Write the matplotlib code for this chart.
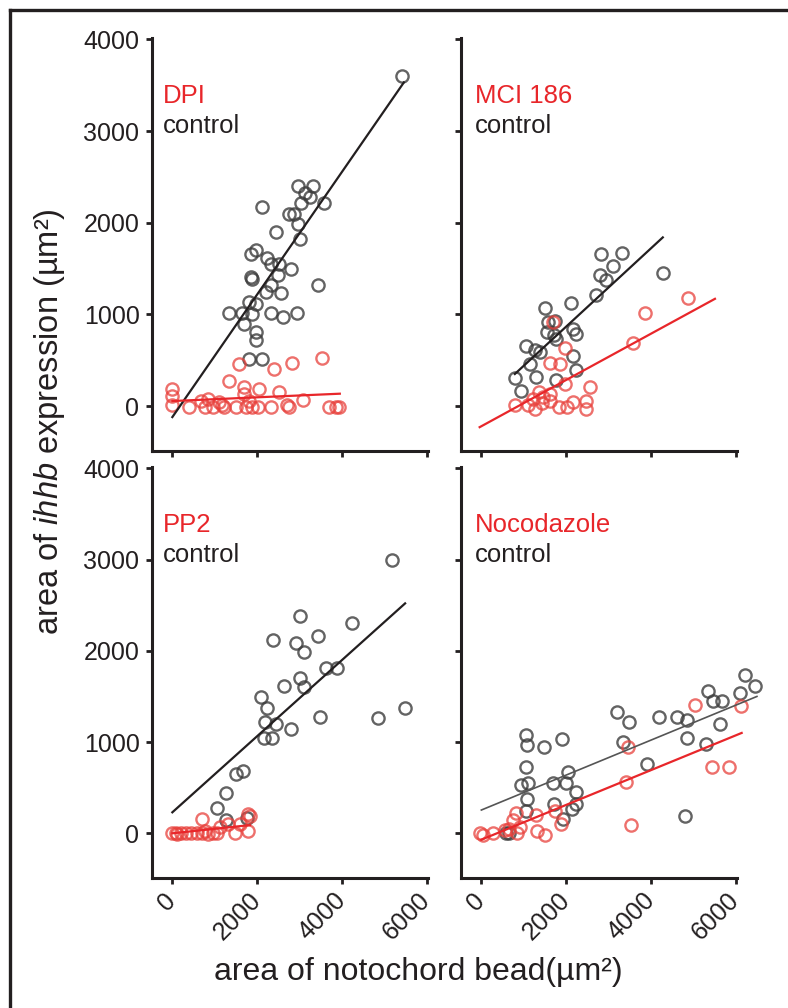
import numpy as np
import matplotlib
matplotlib.use('Agg')
import matplotlib.pyplot as plt
from matplotlib.lines import Line2D

plt.rcParams['font.family'] = ['Liberation Sans', 'DejaVu Sans']
plt.rcParams['mathtext.fontset'] = 'custom'
plt.rcParams['mathtext.rm'] = 'Liberation Sans'
plt.rcParams['mathtext.it'] = 'Liberation Sans:italic'

RED = '#e8262a'
INK = '#231f20'

# ---- DPI ----
dpi_ctrl_x = [5420, 2970, 3320, 3140, 3240, 3030, 3580, 2110, 2740, 2870, 2970, 2440, 3000,
              1850, 1970, 2240, 2320, 2520, 2790, 1850, 1890, 2500, 2320, 3440, 2200, 2560,
              1810, 1970, 1340, 1650, 1890, 2320, 2610, 2950, 1690, 1970, 1970, 1810, 2110]
dpi_ctrl_y = [3600, 2400, 2400, 2320, 2280, 2220, 2220, 2170, 2100, 2100, 1990, 1900, 1820,
              1660, 1700, 1610, 1550, 1550, 1500, 1410, 1390, 1430, 1320, 1320, 1240, 1230,
              1130, 1110, 1010, 1010, 1000, 1010, 970, 1010, 890, 810, 720, 510, 510]
dpi_trt_x = [0, 0, 0, 400, 670, 830, 950, 1110, 1220, 1340, 1500, 1580, 1690, 1690, 1730, 1810,
             2050, 2010, 2320, 2400, 2520, 2710, 2750, 2830, 3070, 3540, 3690, 3850, 3930, 780,
             1180, 1890]
dpi_trt_y = [190, 115, 10, -10, 60, 80, -10, 40, -10, 270, -10, 460, 210, 130, -10, 60,
             190, -10, -10, 400, 150, 10, -10, 470, 70, 520, -10, -10, -10, -10,
             10, -10]
dpi_ctrl_fit = ([0, 5460], [-120, 3530])
dpi_trt_fit = ([0, 3950], [55, 135])

# ---- MCI 186 ----
mci_ctrl_x = [2820, 3310, 3110, 2800, 2950, 4280, 2700, 1500, 2110, 1580, 1740, 1540, 1710,
              1770, 2170, 2230, 1050, 1260, 1380, 2170, 1140, 790, 1280, 1770, 2240, 930]
mci_ctrl_y = [1660, 1670, 1530, 1430, 1380, 1450, 1210, 1070, 1120, 920, 930, 810, 770,
              730, 840, 790, 660, 610, 590, 550, 460, 310, 320, 280, 390, 160]
mci_trt_x = [4880, 3860, 3580, 1690, 1970, 1610, 1850, 1970, 2560, 1350, 1610, 790, 1100,
             1260, 1420, 1610, 1830, 2010, 2150, 2480, 2480, 1220, 1460]
mci_trt_y = [1180, 1010, 690, 920, 630, 470, 460, 240, 210, 150, 130, 10, 10,
             -30, 30, 60, -10, -10, 40, 60, -30, 80, 100]
mci_ctrl_fit = ([790, 4280], [350, 1840])
mci_trt_fit = ([-40, 5510], [-230, 1170])

# ---- PP2 ----
pp2_ctrl_x = [5170, 3010, 4230, 2380, 2910, 3440, 3100, 3620, 3890, 2640, 3010, 3100, 2100,
              2240, 2190, 2440, 3480, 2810, 4860, 5490, 2160, 2360, 1500, 1670, 1260, 1060,
              1260, 1750]
pp2_ctrl_y = [3000, 2380, 2300, 2120, 2090, 2160, 1990, 1810, 1810, 1620, 1700, 1600, 1490,
              1370, 1220, 1200, 1270, 1140, 1260, 1370, 1050, 1050, 650, 680, 440, 280,
              150, 170]
pp2_trt_x = [0, 90, 210, 330, 450, 570, 690, 760, 710, 840, 960, 1120, 1310, 1470, 1590,
             1790, 1790, 1830, 1060, 110]
pp2_trt_y = [0, 0, 0, 0, 0, 0, 0, 30, 160, -10, 0, 70, 100, 0, 100,
             210, 30, 190, 0, -10]
pp2_ctrl_fit = ([0, 5490], [230, 2520])
pp2_trt_fit = ([0, 1830], [0, 90])

# ---- Nocodazole ----
noc_ctrl_x = [6220, 6460, 5340, 5470, 5670, 6090, 3190, 3490, 4200, 4620, 4840, 5630, 4840,
              5310, 3350, 3900, 1050, 1080, 1470, 1910, 1050, 2050, 940, 1100, 1080, 1690,
              1990, 2240, 1710, 2240, 1050, 1930, 4800, 2130, 590, 650]
noc_ctrl_y = [1740, 1620, 1560, 1450, 1450, 1540, 1330, 1220, 1270, 1270, 1240, 1200, 1050,
              980, 1000, 760, 1080, 970, 950, 1030, 730, 670, 530, 550, 380, 550,
              550, 450, 320, 320, 240, 160, 190, 270, 0, 0]
noc_trt_x = [5040, 6120, 5430, 5850, 3460, 3420, 3540, 1890, -40, 40, 280, 550, 810, 750,
             840, 910, 1310, 1500, 1730, 1300, 650]
noc_trt_y = [1410, 1390, 730, 730, 950, 560, 90, 100, 0, -20, 0, 40, 220, 150,
             0, 70, 20, -20, 240, 200, 50]
noc_ctrl_fit = ([0, 6500], [255, 1500])
noc_trt_fit = ([0, 6140], [-70, 1100])

names = ['DPI', 'MCI 186', 'PP2', 'Nocodazole']

fig = plt.figure(figsize=(7.88, 10.08), dpi=100)
W, H = 788.0, 1008.0

# axes boxes in pixels: left, top, right, bottom
boxes = [(152, 38, 428, 451), (461, 38, 737, 451),
         (152, 467, 428, 878), (461, 467, 737, 878)]

panels = [
    (dpi_ctrl_x, dpi_ctrl_y, dpi_trt_x, dpi_trt_y, dpi_ctrl_fit, dpi_trt_fit, INK),
    (mci_ctrl_x, mci_ctrl_y, mci_trt_x, mci_trt_y, mci_ctrl_fit, mci_trt_fit, INK),
    (pp2_ctrl_x, pp2_ctrl_y, pp2_trt_x, pp2_trt_y, pp2_ctrl_fit, pp2_trt_fit, INK),
    (noc_ctrl_x, noc_ctrl_y, noc_trt_x, noc_trt_y, noc_ctrl_fit, noc_trt_fit, '#555555'),
]

for i, (l, t, r, b) in enumerate(boxes):
    ax = fig.add_axes([l / W, 1 - b / H, (r - l) / W, (b - t) / H])
    cx, cy, tx, ty, cfit, tfit, lcol = panels[i]

    ax.plot(cx, cy, 'o', ms=8.8, mfc='none', mec='#3c3c3c', mew=1.7, alpha=0.8, clip_on=False)
    ax.plot(tx, ty, 'o', ms=8.8, mfc='none', mec='#e8403b', mew=1.7, alpha=0.75, clip_on=False)
    ax.plot(cfit[0], cfit[1], color=lcol, lw=1.6 if i < 3 else 1.2, clip_on=False)
    ax.plot(tfit[0], tfit[1], color=RED, lw=1.6, clip_on=False)

    ax.set_xlim(-480, 6030)
    ax.set_ylim(-490, 4015)
    ax.set_xticks([0, 2000, 4000, 6000])
    ax.set_yticks([0, 1000, 2000, 3000, 4000])
    for s in ['top', 'right']:
        ax.spines[s].set_visible(False)
    for s in ['left', 'bottom']:
        ax.spines[s].set_linewidth(2.2)
        ax.spines[s].set_color(INK)
    ax.tick_params(direction='out', length=4.5, width=2, color=INK,
                   labelsize=18, labelcolor=INK)
    ax.tick_params(axis='y', pad=4.5)
    ax.tick_params(axis='x', pad=9)

    if i % 2 == 1:
        ax.set_yticklabels([])
    if i < 2:
        ax.set_xticklabels([])
    else:
        for lab in ax.get_xticklabels():
            lab.set_rotation(45)
            lab.set_ha('right')
            lab.set_va('center')
            lab.set_rotation_mode('anchor')

    tx0 = 0.04 if i % 2 == 0 else 0.05
    ax.text(tx0, 0.842, names[i], transform=ax.transAxes, color=RED, fontsize=18.5)
    ax.text(tx0, 0.769, 'control', transform=ax.transAxes, color=INK, fontsize=18.5)

fig.text(50 / W, 1 - 422 / H, r'area of $\mathit{ihhb}$ expression (µm²)',
         rotation=90, ha='center', va='center', fontsize=23.5, color=INK)
fig.text(418 / W, 1 - 972 / H, 'area of notochord bead(µm²)',
         ha='center', va='center', fontsize=23, color=INK)

# frame around the figure (only top and left edges show)
fig.add_artist(Line2D([10 / W, 10 / W], [0, 1 - 10 / H], transform=fig.transFigure,
                      lw=2.4, color=INK))
fig.add_artist(Line2D([10 / W, 1], [1 - 10 / H, 1 - 10 / H], transform=fig.transFigure,
                      lw=2.4, color=INK))

fig.savefig('out.png', dpi=100)
